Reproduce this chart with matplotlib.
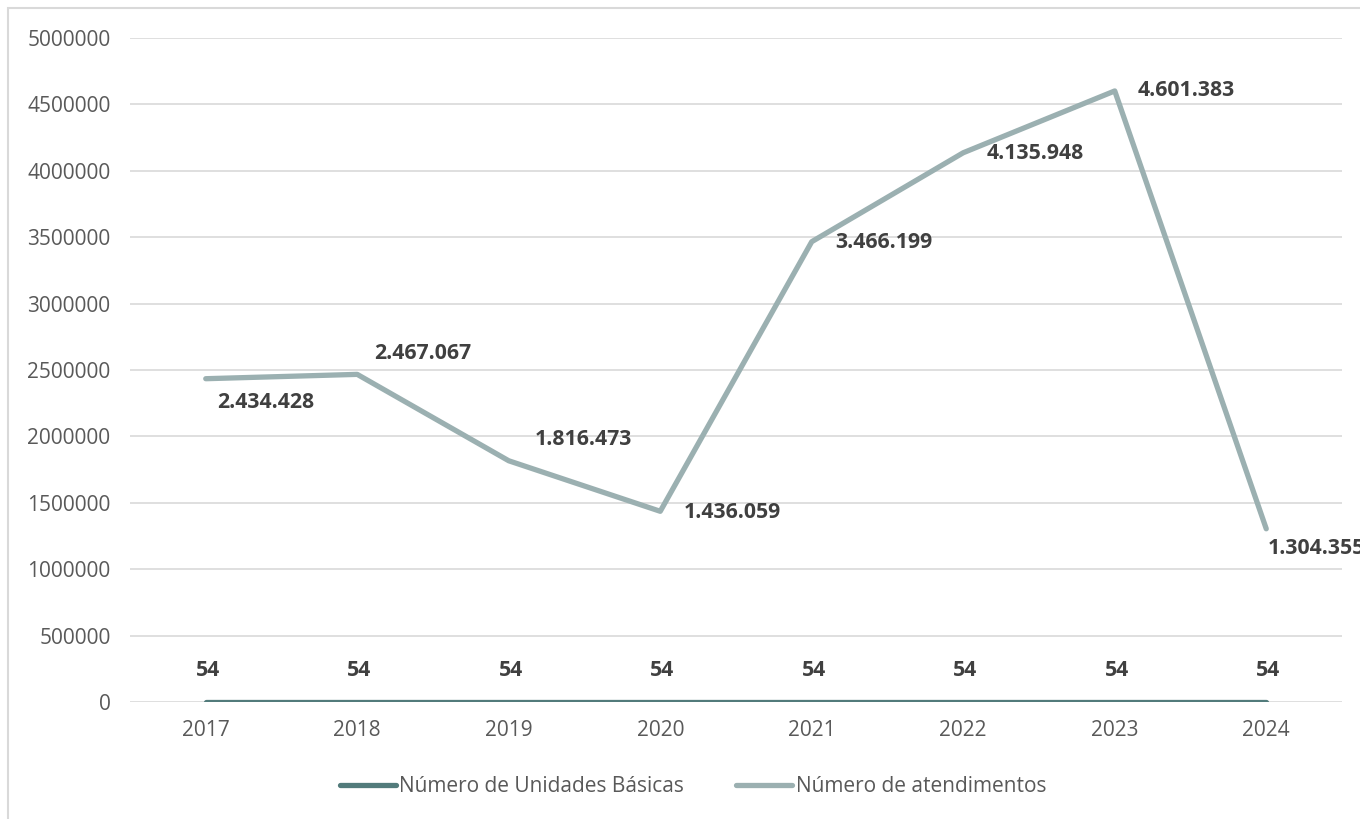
import matplotlib.pyplot as plt
from matplotlib.patches import Rectangle

anos = ["2017", "2018", "2019", "2020", "2021", "2022", "2023", "2024"]
unidades = [54, 54, 54, 54, 54, 54, 54, 54]
atendimentos = [2434428, 2467067, 1816473, 1436059, 3466199, 4135948, 4601383, 1304355]
yticks = [0, 500000, 1000000, 1500000, 2000000, 2500000, 3000000, 3500000, 4000000, 4500000, 5000000]

# deslocamento dos rótulos (pixels) em relação ao ponto
desloc = [(11, -24), (17, 21), (26, 21), (23, -1), (24, -1), (23, -1), (23, 0), (1, -20)]

def fmt(v):
    return f"{v:,}".replace(",", ".")

plt.rcParams['font.family'] = ['Open Sans', 'DejaVu Sans']

fig = plt.figure(figsize=(13.6, 8.19), dpi=100)
fig.patches.append(Rectangle((8 / 1360, -0.1), 1.2, 1 - 8 / 819 + 0.1, transform=fig.transFigure,
                             fill=False, edgecolor="#d9d9d9", linewidth=1.5))

ax = fig.add_axes([130 / 1360, 1 - 702 / 819, (1342 - 130) / 1360, (702 - 38) / 819])
x = list(range(len(anos)))

ax.plot(x, unidades, color="#527b7b", linewidth=3.8, solid_capstyle="round",
        label="Número de Unidades Básicas", zorder=3)
ax.plot(x, atendimentos, color="#9bb0b1", linewidth=3.8, solid_capstyle="round",
        label="Número de atendimentos", zorder=3)

for i, v in enumerate(atendimentos):
    dx, dy = desloc[i]
    ax.annotate(fmt(v), (i, v), xytext=(dx, dy), textcoords="offset pixels",
                ha="left", va="center", fontsize=15.3, fontweight="bold", color="#404040",
                annotation_clip=False)
for i, v in enumerate(unidades):
    ax.annotate(str(v), (i, v), xytext=(2, 31), textcoords="offset pixels",
                ha="center", va="center", fontsize=15.3, fontweight="bold", color="#404040")

ax.set_xlim(-0.5, len(anos) - 0.5)
ax.set_ylim(0, 5000000)
ax.set_yticks(yticks)
ax.set_yticklabels([str(t) for t in yticks])
ax.set_xticks(x)
ax.set_xticklabels(anos)
ax.tick_params(axis="both", length=0, labelsize=15, labelcolor="#595959")
ax.tick_params(axis="y", pad=14)
ax.tick_params(axis="x", pad=13)
ax.grid(axis="y", color="#d9d9d9", linewidth=1.2)
ax.set_axisbelow(True)
for s in ax.spines.values():
    s.set_visible(False)

fig.legend(*ax.get_legend_handles_labels(), loc="center", bbox_to_anchor=(693 / 1360, 1 - 787 / 819),
           ncol=2, frameon=False, fontsize=15, labelcolor="#595959", handlelength=2.7,
           handletextpad=0.15, columnspacing=2.5)

fig.savefig("out.png", dpi=100)
